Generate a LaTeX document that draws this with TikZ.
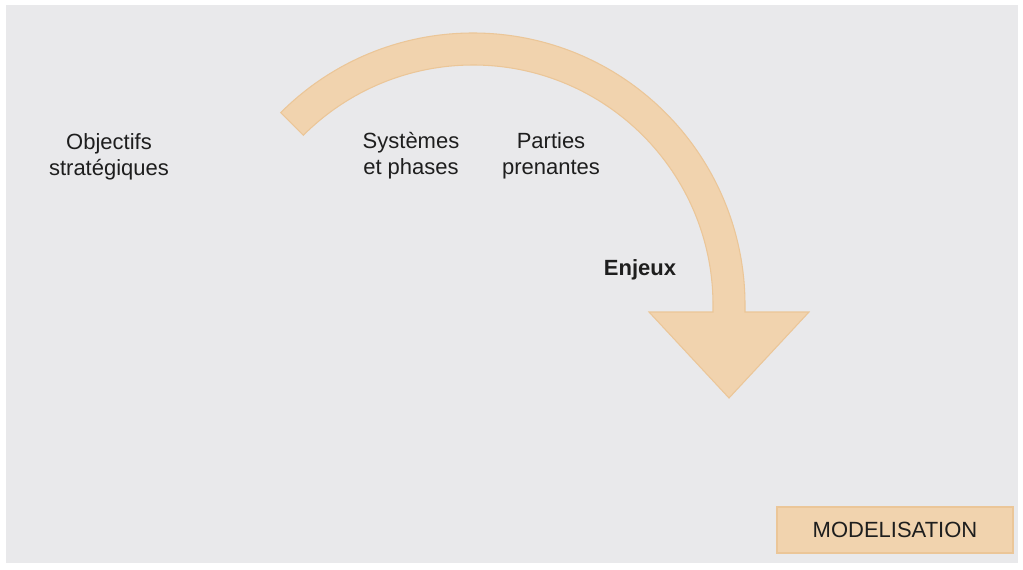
\documentclass[tikz,border=0pt]{standalone}
\usepackage{fontspec}
\setmainfont{Liberation Sans}
\definecolor{bgcol}{RGB}{233,233,235}
\definecolor{arrowfill}{RGB}{241,211,174}
\definecolor{arrowedge}{RGB}{235,198,152}
\definecolor{textcol}{RGB}{30,30,30}
\begin{document}
\begin{tikzpicture}[x=0.75pt,y=0.75pt,
  lbl/.style={font=\fontsize{16.5pt}{19.5pt}\selectfont, text=textcol, inner sep=0pt, anchor=base},
  arrowsty/.style={fill=arrowfill, draw=arrowedge, line width=0.8pt, line join=miter},
  boxsty/.style={fill=arrowfill, draw=arrowedge, line width=0.8pt, inner sep=0pt,
    minimum width=177pt, minimum height=34.5pt, text=textcol,
    font=\fontsize{16.5pt}{19.5pt}\selectfont}]
\useasboundingbox (0,0) rectangle (1023,569);
\fill[white] (0,0) rectangle (1023,569);
\fill[bgcol] (6,6) rectangle (1018,564);
% curved arrow
\coordinate (C) at (473,264);
\coordinate (sr) at (745,257);
\coordinate (hr) at (809,257);
\coordinate (tip) at (729,171);
\coordinate (hl) at (649,257);
\coordinate (sl) at (713,257);
\coordinate (sli) at (713,264);
\draw[arrowsty] ([shift={(135:204pt)}]C) arc[start angle=135, end angle=0, radius=204pt]
  -- (sr) -- (hr) -- (tip) -- (hl) -- (sl) -- (sli)
  arc[start angle=0, end angle=135, radius=180pt] -- cycle;
% labels
\node[lbl] (obj) at (109,420) {\begin{tabular}[t]{@{}c@{}}Objectifs\\strat\'egiques\end{tabular}};
\node[lbl] (sys) at (411,421) {\begin{tabular}[t]{@{}c@{}}Syst\`emes\\et phases\end{tabular}};
\node[lbl] (par) at (551,421) {\begin{tabular}[t]{@{}c@{}}Parties\\prenantes\end{tabular}};
\node[lbl, font=\fontsize{16.5pt}{19.5pt}\selectfont\bfseries] (enj) at (640,294) {Enjeux};
\node[boxsty] (mod) at (895,39) {MODELISATION};
\end{tikzpicture}
\end{document}
